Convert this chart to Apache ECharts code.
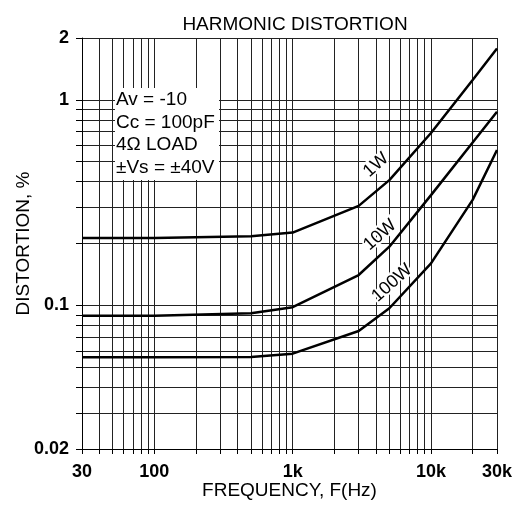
<!DOCTYPE html>
<html>
<head>
<meta charset="utf-8">
<script src="https://cdn.jsdelivr.net/npm/echarts@6/dist/echarts.min.js"></script>
<style>
html, body { margin: 0; padding: 0; background: #fff; }
#chart { width: 524px; height: 505px; }
</style>
</head>
<body>
<div id="chart"></div>
<script>
// frequencies (Hz)
var freqs = [30, 100, 500, 1000, 3000, 5000, 10000, 20000, 30000];
// distortion, %
var thd1W = [0.213, 0.213, 0.217, 0.226, 0.305, 0.407, 0.69, 1.25, 1.78];
var thd10W = [0.089, 0.089, 0.0915, 0.098, 0.1405, 0.193, 0.344, 0.62, 0.875];
var thd100W = [0.0559, 0.0559, 0.056, 0.0582, 0.075, 0.0968, 0.16, 0.326, 0.57];

var xGrid = [30, 40, 50, 60, 70, 80, 90, 100, 200, 300, 400, 500, 600, 700, 800, 900,
  1000, 2000, 3000, 4000, 5000, 6000, 7000, 8000, 9000, 10000, 20000, 30000];
var xLabels = [30, 100, 1000, 10000, 30000];
var yGrid = [0.02, 0.03, 0.04, 0.05, 0.06, 0.07, 0.08, 0.09, 0.1, 0.2, 0.3, 0.4, 0.5,
  0.6, 0.7, 0.8, 0.9, 1, 2];
var yLabels = [0.02, 0.1, 1, 2];

var font = 'Liberation Sans, Arial, sans-serif';

function pairs(ys) {
  return freqs.map(function (f, i) { return [f, ys[i]]; });
}
function curve(name, ys) {
  return {
    name: name,
    type: 'line',
    data: pairs(ys),
    symbol: 'none',
    smooth: false,
    z: 5,
    lineStyle: { color: '#000', width: 2.5 }
  };
}
function curveLabel(text, x, y) {
  return {
    type: 'text', z: 101, x: x, y: y, rotation: 42 * Math.PI / 180,
    style: { text: text, font: '18px ' + font, fill: '#000', align: 'center',
      verticalAlign: 'middle', stroke: '#fff', lineWidth: 4 }
  };
}

var chart = echarts.init(document.getElementById('chart'));
var option = {
  animation: false,
  backgroundColor: '#fff',
  title: {
    text: 'HARMONIC DISTORTION',
    left: 290, top: 10, textAlign: 'center',
    textStyle: { fontFamily: font, fontSize: 19, fontWeight: 'normal', color: '#000' }
  },
  grid: { left: 82, right: 27, top: 38, bottom: 56, outerBoundsMode: 'none', containLabel: false },
  xAxis: {
    type: 'log', logBase: 10, min: 30, max: 30000,
    name: 'FREQUENCY, F(Hz)', nameLocation: 'middle', nameGap: 32,
    nameMoveOverlap: false,
    nameTextStyle: { fontFamily: font, fontSize: 19, color: '#000' },
    axisLine: { show: true, lineStyle: { color: '#000', width: 1 } },
    axisTick: { show: true, inside: false, length: 5, customValues: xGrid,
      lineStyle: { color: '#000' } },
    axisLabel: {
      customValues: xLabels, margin: 14,
      fontFamily: font, fontSize: 18, fontWeight: 'bold', color: '#000',
      formatter: function (v) { return v >= 1000 ? (v / 1000) + 'k' : String(v); }
    },
    splitLine: { show: true, lineStyle: { color: '#222', width: 1 } }
  },
  yAxis: {
    type: 'log', logBase: 10, min: 0.02, max: 2,
    name: 'DISTORTION, %', nameLocation: 'middle', nameGap: 49,
    nameMoveOverlap: false,
    nameTextStyle: { fontFamily: font, fontSize: 19, color: '#000' },
    axisLine: { show: true, lineStyle: { color: '#000', width: 1 } },
    axisTick: { show: true, inside: false, length: 6, customValues: yGrid,
      lineStyle: { color: '#000' } },
    axisLabel: {
      customValues: yLabels, margin: 13,
      fontFamily: font, fontSize: 18, fontWeight: 'bold', color: '#000',
      formatter: function (v) { return String(+v.toPrecision(3)); }
    },
    splitLine: { show: true, lineStyle: { color: '#222', width: 1 } }
  },
  graphic: [
    {
      type: 'rect', z: 100,
      shape: { x: 115, y: 88, width: 104, height: 92 },
      style: { fill: '#fff' }
    },
    {
      type: 'text', z: 101, left: 116, top: 89,
      style: {
        text: 'Av = -10\nCc = 100pF\n4Ω LOAD\n±Vs = ±40V',
        font: '19px ' + font, lineHeight: 22.5, fill: '#000'
      }
    },
    curveLabel('1W', 376, 165),
    curveLabel('10W', 380, 235),
    curveLabel('100W', 392, 283)
  ],
  series: [
    curve('1W', thd1W),
    curve('10W', thd10W),
    curve('100W', thd100W)
  ]
};
chart.setOption(option);
</script>
</body>
</html>
